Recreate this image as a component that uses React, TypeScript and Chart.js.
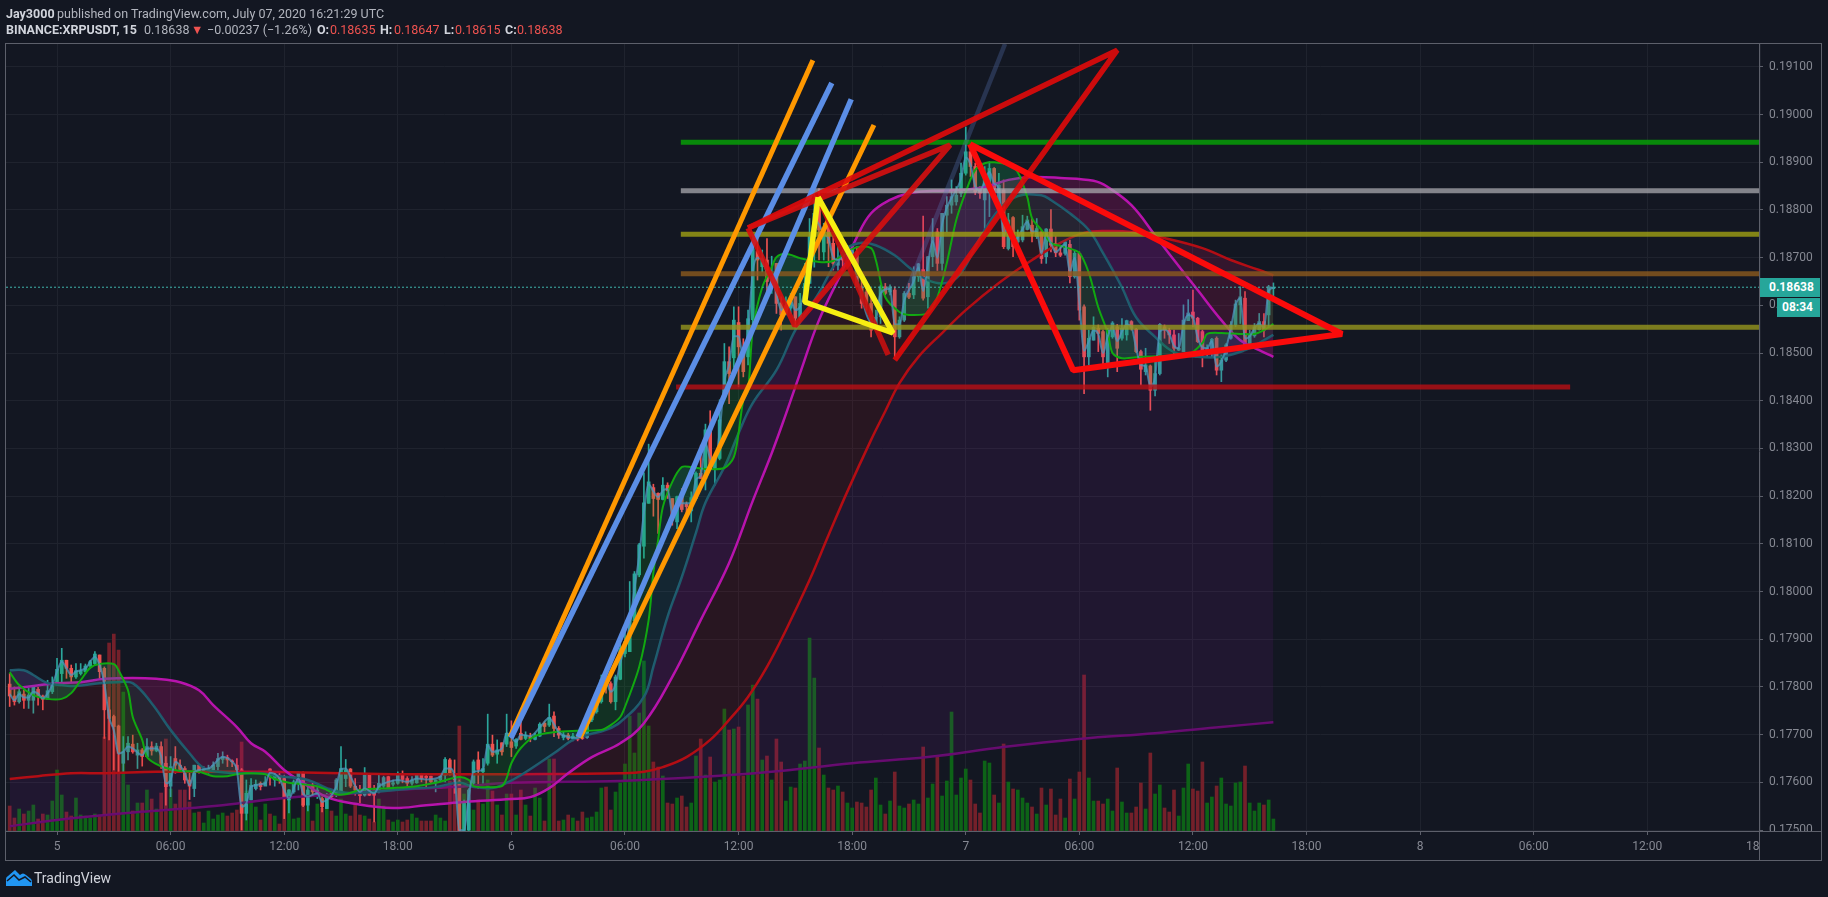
import React, { useEffect, useRef } from "react";
import { Chart, registerables } from "chart.js";

Chart.register(...registerables);

const E5 = 100000;
const opens = [
  17806,17781,17769,17785,17772,17772,17795,17781,17774,17790,
  17807,17828,17856,17839,17821,17828,17832,17844,17849,17867,
  17839,17752,17738,17718,17640,17664,17680,17657,17668,17654,
  17675,17666,17675,17640,17592,17650,17636,17629,17605,17587,
  17636,17622,17624,17626,17633,17648,17652,17645,17636,17626,
  17535,17563,17587,17598,17592,17628,17605,17615,17608,17563,
  17580,17598,17620,17552,17594,17573,17566,17545,17577,17577,
  17580,17608,17628,17592,17584,17573,17617,17584,17580,17592,
  17612,17596,17598,17617,17608,17598,17599,17617,17613,17613,
  17601,17605,17615,17647,17617,17601,17499,17500,17598,17647,
  17622,17640,17680,17659,17683,17680,17685,17676,17703,17692,
  17696,17690,17697,17724,17720,17739,17713,17694,17699,17692,
  17696,17699,17694,17731,17748,17769,17815,17807,17769,17816,
  17870,17874,17939,18035,18095,18185,18218,18206,18193,18223,
  18195,18146,18200,18183,18169,18195,18248,18237,18344,18258,
  18279,18408,18482,18490,18564,18506,18492,18570,18714,18681,
  18695,18650,18688,18605,18583,18594,18618,18575,18604,18646,
  18744,18828,18712,18779,18730,18684,18712,18695,18705,18712,
  18639,18628,18604,18555,18576,18639,18628,18632,18534,18569,
  18625,18622,18660,18675,18618,18702,18754,18688,18789,18810,
  18817,18835,18877,18922,18891,18842,18821,18852,18887,18810,
  18842,18719,18784,18733,18737,18759,18768,18744,18754,18702,
  18760,18730,18710,18709,18728,18660,18709,18597,18492,18527,
  18552,18545,18475,18534,18555,18531,18538,18566,18550,18503,
  18461,18473,18422,18457,18555,18548,18538,18506,18503,18568,
  18586,18573,18545,18503,18506,18531,18464,18485,18531,18559,
  18601,18615,18517,18536,18549,18566,18580,18635,
];
const closes = [
  17781,17769,17790,17772,17783,17800,17781,17774,17792,17807,
  17837,17856,17839,17821,17834,17834,17844,17853,17869,17832,
  17752,17734,17717,17661,17664,17682,17664,17668,17654,17675,
  17666,17676,17640,17591,17633,17636,17627,17605,17592,17636,
  17622,17627,17629,17636,17650,17654,17647,17643,17626,17535,
  17577,17594,17596,17591,17601,17620,17615,17605,17570,17584,
  17601,17619,17552,17584,17580,17584,17549,17573,17570,17605,
  17629,17626,17592,17584,17572,17615,17573,17573,17598,17610,
  17589,17599,17615,17606,17598,17605,17615,17608,17610,17601,
  17605,17613,17648,17617,17605,17499,17556,17584,17643,17627,
  17629,17680,17657,17668,17664,17703,17673,17690,17690,17699,
  17692,17697,17722,17717,17736,17713,17699,17699,17692,17697,
  17690,17692,17731,17741,17766,17815,17804,17769,17821,17881,
  17895,17944,18037,18098,18186,18230,18195,18193,18223,18211,
  18150,18199,18172,18178,18197,18248,18237,18339,18256,18279,
  18360,18482,18457,18569,18513,18461,18572,18719,18695,18698,
  18650,18667,18604,18580,18597,18618,18573,18604,18646,18744,
  18793,18758,18758,18730,18688,18698,18695,18719,18719,18639,
  18604,18604,18548,18575,18639,18625,18639,18534,18569,18625,
  18617,18660,18687,18615,18702,18744,18688,18793,18810,18828,
  18831,18877,18922,18891,18838,18835,18870,18887,18845,18852,
  18723,18779,18723,18744,18765,18779,18751,18761,18698,18760,
  18726,18710,18705,18733,18660,18709,18590,18492,18531,18554,
  18541,18492,18548,18563,18510,18552,18568,18552,18503,18466,
  18475,18422,18457,18560,18548,18538,18510,18510,18569,18584,
  18573,18524,18506,18510,18529,18464,18485,18517,18559,18603,
  18618,18517,18538,18555,18566,18548,18639,18638,
];
const highs = [
  17828,17800,17800,17793,17797,17800,17799,17783,17814,17821,
  17860,17881,17856,17846,17849,17849,17848,17856,17874,17867,
  17842,17779,17741,17720,17696,17696,17699,17682,17671,17692,
  17685,17682,17685,17654,17654,17675,17647,17633,17622,17636,
  17636,17633,17636,17643,17661,17664,17657,17647,17650,17629,
  17605,17608,17605,17601,17612,17629,17622,17619,17615,17585,
  17605,17622,17622,17591,17598,17589,17570,17577,17578,17608,
  17675,17648,17629,17608,17594,17631,17617,17594,17615,17613,
  17613,17605,17622,17624,17612,17612,17617,17619,17615,17613,
  17605,17619,17652,17650,17647,17605,17563,17587,17647,17664,
  17650,17743,17699,17689,17683,17743,17729,17692,17727,17706,
  17703,17703,17725,17727,17764,17748,17717,17706,17703,17703,
  17699,17703,17741,17752,17773,17825,17832,17811,17825,17891,
  17926,18021,18042,18101,18249,18309,18225,18207,18239,18228,
  18195,18200,18216,18188,18209,18251,18307,18351,18379,18286,
  18402,18520,18513,18597,18597,18530,18590,18747,18747,18716,
  18740,18703,18688,18618,18618,18625,18618,18625,18688,18782,
  18835,18845,18772,18782,18747,18723,18716,18726,18726,18723,
  18653,18632,18618,18590,18643,18646,18643,18639,18576,18629,
  18646,18681,18688,18787,18702,18782,18761,18793,18828,18863,
  18849,18898,18974,18940,18898,18849,18891,18901,18889,18877,
  18863,18793,18786,18758,18789,18787,18782,18782,18758,18761,
  18801,18744,18726,18733,18737,18714,18712,18601,18548,18576,
  18559,18548,18552,18566,18560,18572,18569,18568,18552,18506,
  18510,18475,18485,18562,18559,18552,18548,18541,18601,18612,
  18632,18575,18548,18517,18531,18534,18496,18520,18566,18611,
  18639,18629,18548,18562,18583,18583,18642,18647,
];
const lows = [
  17759,17762,17766,17755,17755,17745,17762,17752,17779,17786,
  17807,17811,17818,17811,17818,17825,17828,17839,17846,17818,
  17692,17689,17626,17619,17619,17647,17661,17629,17634,17654,
  17657,17664,17629,17552,17570,17619,17622,17598,17564,17570,
  17619,17619,17619,17622,17626,17640,17633,17633,17619,17500,
  17521,17563,17584,17584,17594,17594,17592,17598,17524,17536,
  17577,17584,17549,17540,17570,17566,17538,17545,17566,17570,
  17577,17591,17589,17573,17557,17571,17572,17517,17578,17589,
  17587,17592,17596,17599,17592,17594,17598,17601,17587,17598,
  17580,17601,17601,17615,17577,17499,17499,17499,17594,17587,
  17598,17636,17654,17640,17657,17675,17654,17671,17689,17689,
  17685,17689,17696,17706,17717,17696,17692,17689,17689,17687,
  17687,17690,17692,17727,17745,17766,17787,17766,17752,17815,
  17863,17874,17939,18031,18070,18185,18158,18122,18192,18195,
  18139,18132,18167,18164,18146,18192,18237,18213,18255,18223,
  18276,18401,18394,18470,18429,18450,18475,18548,18653,18670,
  18625,18625,18583,18548,18580,18583,18552,18569,18604,18646,
  18680,18695,18695,18681,18674,18674,18674,18691,18695,18639,
  18594,18590,18534,18552,18562,18622,18622,18492,18531,18566,
  18614,18614,18650,18611,18594,18681,18673,18674,18754,18793,
  18810,18828,18873,18870,18832,18824,18751,18786,18824,18800,
  18719,18716,18702,18730,18733,18758,18733,18740,18688,18688,
  18712,18702,18702,18705,18647,18657,18569,18415,18475,18527,
  18503,18475,18450,18531,18461,18527,18527,18548,18501,18433,
  18454,18380,18410,18454,18531,18520,18492,18505,18503,18568,
  18555,18522,18471,18492,18492,18454,18440,18482,18529,18555,
  18562,18513,18517,18533,18548,18534,18555,18615,
];
const volumes = [
  25,13,22,17,20,26,12,17,16,30,61,36,19,15,33,16,15,13,17,16,
  94,188,197,181,
  139,46,20,28,28,41,32,22,38,92,42,27,41,41,29,18,19,8,20,12,16,18,15,18,21,89,40,29,24,11,
  27,17,15,7,33,41,12,13,27,25,10,27,23,35,20,15,32,17,15,27,16,15,12,9,32,25,11,9,11,9,
  11,17,13,10,10,10,16,13,10,50,50,105,37,21,21,31,27,51,40,26,16,37,37,16,
  41,26,15,43,33,10,72,72,10,11,16,13,10,19,13,14,19,43,44,21,39,48,
  67,115,78,118,170,105,69,64,55,28,27,33,35,24,28,75,92,56,74,49,
  51,122,101,102,104,55,126,146,132,71,75,51,92,69,30,44,43,67,70,193,
  153,83,56,43,41,45,39,28,23,29,28,24,41,53,26,17,30,59,25,23,
  27,31,27,84,33,47,75,35,50,119,36,53,62,51,27,18,70,68,36,28,
  87,49,42,41,33,28,24,17,43,26,42,16,32,13,52,32,59,156,53,30,
  30,27,32,20,63,29,18,18,24,48,22,78,37,46,23,19,41,15,43,67,
  42,40,69,28,34,45,53,27,25,48,49,65,28,20,28,26,31,12,
];

const fastBars = [0,2,5,8,11,13,15,17,19,22,23,25,26,28,29,31,33,36,40,43,46,48,50,54,56,59,62,65,67,69,71,74,81,86,90,95,97,98,101,104,105,106,108,111,115,120,125,127,129,130,133,135,136,137,138,140,142,144,147,151,153,154,155,156,157,159,161,162,164,167,171,174,177,179,182,183,185,188,190,194,196,198,200,202,204,206,208,211,213,215,216,218,220,223,226,228,230,232,233,235,239,245,249,252,253,256,260,263,265,267];
const fastVals = [17831,17804,17783,17775,17775,17787,17814,17840,17848,17848,17835,17793,17737,17689,17653,17638,17630,17624,17622,17613,17613,17617,17619,17617,17607,17599,17596,17592,17584,17575,17575,17584,17588,17592,17599,17611,17605,17592,17590,17592,17609,17640,17672,17697,17705,17708,17710,17720,17737,17758,17842,17940,18039,18108,18177,18230,18261,18261,18257,18259,18282,18332,18401,18422,18548,18638,18680,18701,18708,18699,18691,18693,18712,18722,18720,18695,18617,18586,18580,18584,18617,18689,18779,18838,18884,18898,18900,18894,18879,18827,18783,18758,18731,18722,18710,18668,18596,18542,18500,18489,18492,18494,18496,18521,18540,18542,18540,18540,18548,18561];

const midBars = [0,3,5,8,11,14,19,23,26,30,34,38,41,44,48,53,57,63,67,71,77,84,90,95,98,102,104,108,115,119,122,126,129,134,136,139,142,145,147,151,154,157,162,166,171,174,177,180,183,187,190,194,198,201,205,209,213,218,220,224,228,231,235,238,242,246,251,256,261,264,267];
const midVals = [17835,17835,17825,17808,17804,17802,17808,17810,17808,17766,17710,17661,17630,17622,17619,17619,17613,17605,17588,17578,17580,17586,17590,17599,17590,17588,17594,17615,17661,17689,17699,17710,17726,17779,17842,17947,18030,18123,18186,18261,18332,18395,18464,18548,18626,18680,18720,18731,18726,18705,18680,18653,18647,18668,18741,18800,18829,18831,18821,18793,18758,18710,18638,18575,18534,18502,18492,18492,18506,18521,18538];

const slowBars = [0,5,10,15,20,26,31,36,40,43,48,51,54,58,62,67,73,81,88,96,106,110,114,118,123,129,134,140,146,152,157,161,164,167,171,176,179,182,186,190,195,201,206,211,216,222,229,232,237,242,246,251,256,260,264,267];
const slowVals = [17796,17802,17808,17810,17817,17819,17817,17810,17793,17762,17716,17682,17664,17626,17599,17569,17555,17546,17552,17559,17565,17569,17588,17619,17653,17682,17724,17821,17940,18060,18190,18290,18372,18458,18569,18674,18743,18793,18821,18835,18840,18842,18848,18863,18869,18867,18861,18848,18810,18747,18695,18632,18569,18527,18506,18492];

const longBars = [0,6,13,20,31,41,54,81,95,108,129,134,138,143,148,152,156,160,164,169,173,177,182,185,188,192,197,202,209,216,222,227,232,237,244,252,258,264,267];
const longVals = [17607,17613,17619,17619,17622,17622,17622,17617,17617,17617,17619,17622,17632,17653,17689,17731,17779,17842,17919,18024,18118,18210,18318,18378,18437,18492,18542,18590,18647,18695,18731,18752,18756,18754,18741,18720,18695,18674,18663];

const trendBars = [0,10,23,33,45,58,70,81,94,106,129,146,161,178,194,210,226,242,256,267];
const trendVals = [17508,17521,17534,17542,17552,17567,17575,17584,17590,17599,17603,17611,17622,17640,17653,17674,17691,17703,17716,17726];

const smoothBars = [0,1,2,3,4,5,6,7,8,9,10,11,12,13,14,16,18,19,20,21,22,23,24,25,26,28,29,31,32,33,34,35,37,38,39,42,45,47,48,49,50,51,54,55,57,58,59,61,62,63,65,66,67,68,69,70,71,72,74,75,77,78,80,82,84,86,88,91,92,93,94,95,96,97,98,100,101,102,104,105,107,108,110,112,114,115,116,118,120,122,124,125,126,127,128,129,130,131,132,133,134,135,136,137,138,139,140,141,142,144,145,146,147,148,149,150,151,152,153,154,155,156,157,158,159,160,161,162,163,165,166,167,168,169,170,171,172,173,174,175,177,178,179,180,182,183,184,186,187,188,189,191,192,193,194,195,196,197,198,199,201,202,203,204,205,206,207,208,209,210,211,212,213,214,215,216,217,218,219,220,221,223,224,225,226,227,228,229,230,231,232,233,234,235,236,237,238,239,240,241,242,243,244,245,246,247,248,249,250,251,252,253,254,255,256,257,258,259,260,261,262,263,264,265,266,267];
const smoothVals = [17785,17772,17785,17778,17778,17790,17786,17776,17786,17804,17832,17853,17839,17825,17832,17839,17863,17846,17807,17737,17709,17660,17664,17675,17671,17657,17671,17671,17654,17598,17605,17643,17619,17594,17622,17629,17653,17643,17626,17549,17556,17591,17598,17620,17608,17584,17566,17608,17577,17570,17577,17559,17563,17573,17591,17628,17629,17612,17580,17587,17577,17591,17601,17605,17601,17608,17606,17612,17629,17629,17612,17500,17499,17570,17622,17626,17678,17664,17671,17703,17685,17700,17697,17715,17735,17722,17705,17695,17693,17720,17755,17795,17810,17790,17805,17850,17885,17930,18005,18075,18165,18225,18210,18198,18212,18215,18165,18185,18185,18185,18235,18243,18310,18280,18272,18335,18440,18475,18535,18535,18490,18545,18670,18700,18695,18670,18665,18625,18590,18610,18590,18598,18635,18715,18780,18770,18750,18740,18700,18695,18710,18715,18655,18615,18565,18570,18625,18635,18560,18560,18610,18650,18680,18630,18685,18735,18700,18770,18805,18825,18865,18910,18895,18850,18840,18860,18880,18855,18845,18745,18770,18735,18742,18760,18775,18755,18755,18708,18750,18730,18712,18728,18670,18700,18605,18505,18525,18548,18540,18500,18535,18555,18525,18545,18560,18555,18510,18475,18472,18430,18450,18545,18550,18540,18515,18510,18560,18580,18575,18532,18512,18510,18525,18472,18482,18510,18552,18600,18615,18530,18535,18552,18562,18553,18630,18637];

const lastPrice = 18638;
const levelGreen = 18942, levelGray = 18840, levelOliveHigh = 18749, levelBrown = 18666, levelOliveLow = 18554, levelRed = 18429;
const levelStart = 141.8, redLevelStart = 140.8, redLevelEnd = 329.7;

const orangeA = [[105.7,17695],[169.7,19114]];
const orangeB = [[120.5,17693],[182.6,18978]];
const blueA = [[105.9,17693],[173.7,19066]];
const blueB = [[120.1,17695],[177.8,19032]];
const navyLine = [[189.2,18622],[210.3,19148]];
const redTriangle = [[156,18762],[165.9,18557],[198.7,18936],[156,18762]];
const redWedge = [[156,18762],[234,19135],[187,18485]];
const redLeg = [[170.8,18827],[185.6,18496]];
const brightTriangle = [[202.9,18938],[224.7,18464],[281.5,18540],[202.9,18938]];
const yellowTriangle = [[170.8,18827],[168,18607],[186.6,18542],[170.8,18827]];

const xMin = -0.78, xMax = 369.6, yMin = 0.17498, yMax = 0.1915;
const xTickBars = [10,34,58,82,106,130,154,178,202,226,250,274,298,322,346,370];
const xTickLabels = ["5","06:00","12:00","18:00","6","06:00","12:00","18:00","7","06:00","12:00","18:00","8","06:00","12:00","18:00"];
const priceTicks = [17500,17600,17700,17800,17900,18000,18100,18200,18300,18400,18500,18600,18700,18800,18900,19000,19100];

const BG = "#131722";
const pt = (b: number, v: number) => ({ x: b, y: v / E5 });
const curve = (bars: number[], vals: number[]) => bars.map((b, k) => pt(b, vals[k]));
const poly = (list: number[][]) => list.map(([b, v]) => pt(b, v));

const framePlugin = {
  id: "frame",
  afterDraw(chart: any) {
    const ctx = chart.ctx;
    const a = chart.chartArea;
    ctx.save();
    ctx.fillStyle = BG;
    ctx.fillRect(a.right, a.bottom, 1821 - a.right, 860 - a.bottom);
    ctx.strokeStyle = "#5d606b";
    ctx.lineWidth = 1;
    ctx.strokeRect(5.5, 43.5, 1816, 817);
    ctx.beginPath();
    ctx.moveTo(a.right + 0.5, 43);
    ctx.lineTo(a.right + 0.5, 860);
    ctx.moveTo(5, a.bottom + 0.5);
    ctx.lineTo(1821, a.bottom + 0.5);
    ctx.stroke();
    ctx.restore();
  },
};

function line(data: any[], color: string, width: number, order: number, extra: any = {}) {
  return {
    type: "line",
    data,
    borderColor: color,
    borderWidth: width,
    pointRadius: 0,
    tension: 0,
    fill: false,
    order,
    borderJoinStyle: "bevel",
    ...extra,
  };
}
const monotone = { cubicInterpolationMode: "monotone" };
const tint = (target: number, c: string) => ({ fill: { target, above: c, below: c } });

function TradingViewChart() {
  const ref = useRef<HTMLCanvasElement>(null);
  useEffect(() => {
    const up = "#2ba69c";
    const down = "#ef5350";
    const bars = opens.map((_, i) => i);
    const colors = bars.map((i) => (closes[i] >= opens[i] ? up : down));
    const volColors = bars.map((i) => (closes[i] >= opens[i] ? "#0d6317" : "#74202a"));
    const datasets: any[] = [
      line(curve(smoothBars, smoothVals), "rgba(78,150,190,0.75)", 2, 3, { ...monotone, ...tint(1, "rgba(20,180,40,0.17)") }),
      line(curve(fastBars, fastVals), "#12a80f", 2, 4, { tension: 0.3, ...tint(2, "rgba(30,140,160,0.13)") }),
      line(curve(midBars, midVals), "#20596b", 2.5, 5, { tension: 0.4, ...tint(3, "rgba(190,20,190,0.15)") }),
      line(curve(slowBars, slowVals), "#b814ac", 2.5, 6, { tension: 0.4, ...tint(4, "rgba(200,20,30,0.12)") }),
      line(curve(longBars, longVals), "#b30e14", 2.5, 7, { tension: 0.4, ...tint(5, "rgba(150,30,170,0.105)") }),
      line(curve(trendBars, trendVals), "#650b6d", 2.5, 8, { tension: 0.4 }),
      {
        type: "bar",
        yAxisID: "yVol",
        data: bars.map((i) => ({ x: i, y: volumes[i] })),
        backgroundColor: volColors,
        barThickness: 3,
        grouped: false,
        borderWidth: 0,
        order: 12,
      },
      {
        type: "bar",
        data: bars.map((i) => ({ x: i, y: [lows[i] / E5, highs[i] / E5] })),
        backgroundColor: colors,
        barThickness: 1,
        grouped: false,
        borderWidth: 0,
        order: 10,
      },
      {
        type: "bar",
        data: bars.map((i) => ({ x: i, y: [opens[i] / E5, closes[i] / E5] })),
        backgroundColor: colors,
        barThickness: 3,
        minBarLength: 1,
        grouped: false,
        borderWidth: 0,
        order: 9,
      },
      line(poly([[xMin, lastPrice], [xMax, lastPrice]]), "#3fb3ab", 1, 2.5, { borderDash: [2, 2] }),
      line(poly([[levelStart, levelGreen], [xMax, levelGreen]]), "rgba(8,150,8,0.9)", 5, 2),
      line(poly([[levelStart, levelGray], [xMax, levelGray]]), "rgba(170,170,175,0.75)", 5, 2),
      line(poly([[levelStart, levelOliveHigh], [xMax, levelOliveHigh]]), "rgba(160,160,20,0.8)", 5, 2),
      line(poly([[levelStart, levelBrown], [xMax, levelBrown]]), "rgba(140,90,30,0.8)", 5, 2),
      line(poly([[levelStart, levelOliveLow], [xMax, levelOliveLow]]), "rgba(150,150,30,0.8)", 5, 2),
      line(poly([[redLevelStart, levelRed], [redLevelEnd, levelRed]]), "rgba(185,15,20,0.8)", 5, 2),
      line(poly(orangeA), "#ff9800", 5, 1.6),
      line(poly(orangeB), "#ff9800", 5, 1.6),
      line(poly(blueA), "#5b8ee6", 5.5, 1.5),
      line(poly(blueB), "#5b8ee6", 5.5, 1.5),
      line(poly(navyLine), "rgba(90,120,190,0.3)", 4.5, 1.4),
      line(poly(redTriangle), "rgba(215,15,15,0.9)", 5.5, 1.2),
      line(poly(redWedge), "rgba(225,10,10,0.9)", 5.5, 1.2),
      line(poly(redLeg), "rgba(200,15,15,0.9)", 5.5, 1.2),
      line(poly(brightTriangle), "#fa0b0b", 6, 1.1),
      line(poly(yellowTriangle), "#f6ee12", 5.5, 1),
    ];
    const tickFont = { family: "Roboto", size: 12 };
    const chart = new Chart(ref.current as HTMLCanvasElement, {
      type: "line",
      data: { datasets },
      plugins: [framePlugin],
      options: {
        animation: false,
        responsive: false,
        events: [],
        layout: { padding: { left: 6, top: 43, right: 7, bottom: 37 } },
        plugins: { legend: { display: false }, tooltip: { enabled: false } },
        scales: {
          x: {
            type: "linear",
            offset: false,
            min: xMin,
            max: xMax,
            afterBuildTicks: (s: any) => { s.ticks = xTickBars.map((value) => ({ value })); },
            afterFit: (s: any) => { s.height = 29; },
            grid: { color: "#1f232e", offset: false, tickLength: 4, tickColor: "#5d606b" },
            border: { display: false },
            ticks: {
              autoSkip: false,
              maxRotation: 0,
              color: "#868993",
              font: tickFont,
              padding: 5,
              callback: (_v: any, i: number) => xTickLabels[i],
            },
          },
          y: {
            type: "linear",
            position: "right",
            min: yMin,
            max: yMax,
            afterBuildTicks: (s: any) => { s.ticks = priceTicks.map((v) => ({ value: v / E5 })); },
            afterFit: (s: any) => { s.width = 62; },
            grid: { color: "#1f232e", tickLength: 4, tickColor: "#5d606b" },
            border: { display: false },
            ticks: {
              autoSkip: false,
              color: "#868993",
              font: tickFont,
              padding: 6,
              callback: (v: any) => Number(v).toFixed(5),
            },
          },
          yVol: { type: "linear", display: false, min: 0, max: 788 },
        },
      },
    } as any);
    return () => chart.destroy();
  }, []);
  return <canvas ref={ref} width={1828} height={897} style={{ position: "absolute", left: 0, top: 0, display: "block" }} />;
}

const headFont = "Roboto, sans-serif";
const T = ({ x, y, c, b, s, children }: any) => (
  <span style={{ position: "absolute", left: x, top: y, color: c, fontWeight: b ? 700 : 400, fontSize: s || 12.5, lineHeight: "16px", whiteSpace: "nowrap", fontFamily: headFont }}>{children}</span>
);

export default function App() {
  const red = "#ef5350";
  const light = "#d1d4dc";
  const dim = "#b2b5be";
  return (
    <div style={{ position: "fixed", left: 0, top: 0, width: 1828, height: 897, background: BG, overflow: "hidden" }}>
      <TradingViewChart />
      <T x={6} y={6} c={light} b>Jay3000</T>
      <T x={57} y={6} c={dim}>published on TradingView.com, July 07, 2020 16:21:29 UTC</T>
      <T x={6} y={22} c={light} b>BINANCE:XRPUSDT, 15</T>
      <T x={144} y={22} c={dim}>0.18638</T>
      <T x={191} y={22} c={red}>▼</T>
      <T x={207} y={22} c={dim}>−0.00237 (−1.26%)</T>
      <T x={317} y={22} c={light} b>O:</T>
      <T x={330} y={22} c={red}>0.18635</T>
      <T x={380} y={22} c={light} b>H:</T>
      <T x={394} y={22} c={red}>0.18647</T>
      <T x={444} y={22} c={light} b>L:</T>
      <T x={455} y={22} c={red}>0.18615</T>
      <T x={505} y={22} c={light} b>C:</T>
      <T x={517} y={22} c={red}>0.18638</T>
      <div style={{ position: "absolute", left: 1760, top: 278, width: 60, height: 19, background: "#26a69a", color: "#fff", fontFamily: headFont, fontWeight: 700, fontSize: 12, lineHeight: "19px", paddingLeft: 9, boxSizing: "border-box" }}>0.18638</div>
      <div style={{ position: "absolute", left: 1777, top: 298, width: 43, height: 19, background: "#26a69a", color: "#fff", fontFamily: headFont, fontWeight: 700, fontSize: 12, lineHeight: "19px", paddingLeft: 5, boxSizing: "border-box" }}>08:34</div>
      <svg style={{ position: "absolute", left: 6, top: 870 }} width={26} height={16} viewBox="0 0 26 16">
        <path fill="#2196f3" d="M0 16V9Q0 7 2 6L9 0L14 5Q17 2 20 5L25 9Q26 10 26 12V16Z" />
        <path fill="none" stroke={BG} strokeWidth={1.5} d="M1 11L8 5L13 10L19 7L25 12" />
      </svg>
      <T x={34} y={870} c={light} s={14}>TradingView</T>
    </div>
  );
}
